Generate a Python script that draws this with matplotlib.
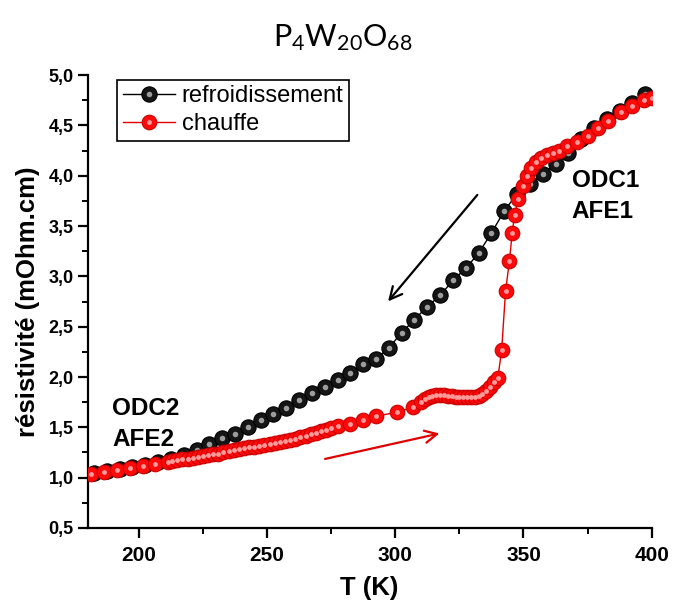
import matplotlib
matplotlib.use("Agg")
import matplotlib.pyplot as plt
from matplotlib.legend_handler import HandlerTuple
from matplotlib.ticker import MultipleLocator, FuncFormatter

# refroidissement (cooling) run
T_cool = [182.5, 187.5, 192.5, 197.5, 202.5, 207.5, 212.5, 217.5, 222.5, 227.5,
          232.5, 237.5, 242.5, 247.5, 252.5, 257.5, 262.5, 267.5, 272.5, 277.5,
          282.5, 287.5, 292.5, 297.5, 302.5, 307.5, 312.5, 317.5, 322.5, 327.5,
          332.5, 337.5, 342.5, 347.5, 352.5, 357.5, 362.5, 367.5, 372.5, 377.5,
          382.5, 387.5, 392.5, 397.5]
R_cool = [1.05, 1.07, 1.09, 1.11, 1.13, 1.16, 1.19, 1.23, 1.27, 1.33,
          1.39, 1.43, 1.50, 1.57, 1.63, 1.69, 1.77, 1.84, 1.90, 1.97,
          2.04, 2.13, 2.18, 2.29, 2.44, 2.57, 2.70, 2.81, 2.96, 3.08,
          3.23, 3.43, 3.65, 3.82, 3.92, 4.02, 4.12, 4.23, 4.36, 4.47,
          4.56, 4.64, 4.72, 4.81]

# chauffe (heating) run
T_heat = [181.5, 186.5, 191.5, 196.5, 201.5, 206.5, 211.5,
          213, 215, 217, 219, 221, 223, 225, 227, 229, 231, 233, 235, 237, 239,
          241, 243, 245, 247, 249, 251, 253, 255, 257, 259, 261, 263, 265, 267,
          269, 271, 273, 275,
          277.5, 282.5, 287.5, 292.5, 300.5, 307,
          310, 311.5, 313, 314.5, 316, 317.5, 319, 320.5, 322, 323.5, 325, 326.5,
          328, 329.5, 331, 332.5, 334, 335.5, 337, 338.5, 340,
          341.5, 343, 344.5, 345.6, 346.5, 348, 350, 351.5, 353, 355, 357, 359,
          361.5, 364, 367, 371, 375, 379, 383, 388, 392.5, 397, 400]
R_heat = [1.04, 1.06, 1.08, 1.10, 1.12, 1.14, 1.16,
          1.17, 1.18, 1.19, 1.19, 1.20, 1.21, 1.22, 1.23, 1.24, 1.24, 1.25, 1.26,
          1.27, 1.28, 1.29, 1.30, 1.30, 1.31, 1.32, 1.33, 1.34, 1.35, 1.36, 1.37,
          1.38, 1.40, 1.41, 1.43, 1.44, 1.46, 1.47, 1.49,
          1.51, 1.53, 1.57, 1.61, 1.65, 1.70,
          1.75, 1.78, 1.80, 1.81, 1.82, 1.82, 1.82, 1.81, 1.81, 1.80, 1.80, 1.80,
          1.80, 1.80, 1.80, 1.81, 1.83, 1.86, 1.90, 1.95, 1.99,
          2.27, 2.85, 3.15, 3.43, 3.61, 3.77, 3.90, 4.00, 4.08, 4.14, 4.18, 4.21,
          4.23, 4.25, 4.29, 4.33, 4.39, 4.47, 4.54, 4.63, 4.69, 4.75, 4.77]

x_ticks = [200, 250, 300, 350, 400]
labels = ["refroidissement", "chauffe"]

plt.rcParams['font.family'] = ['Liberation Sans', 'DejaVu Sans']
plt.rcParams['mathtext.fontset'] = 'custom'
plt.rcParams['mathtext.rm'] = 'Lato'

fig = plt.figure(figsize=(6.86, 6.08), dpi=100)
ax = fig.add_axes([0.1276, 0.1316, 0.8224, 0.745])

# cooling
l1, = ax.plot(T_cool, R_cool, '-', color='black', lw=1, marker='o', ms=11,
              mfc='#151515', mec='black', mew=0.8, zorder=3)
h1, = ax.plot(T_cool, R_cool, 'o', ls='none', ms=4, color='#9c9c9c', mec='none', zorder=3.1)

# heating
l2, = ax.plot(T_heat, R_heat, '-', color='#e00000', lw=1, marker='o', ms=10.5,
              mfc='#ff0a0a', mec='#c80000', mew=0.8, zorder=4)
h2, = ax.plot(T_heat, R_heat, 'o', ls='none', ms=3.5, color='#ff9a9a', mec='none', zorder=4.1)

ax.set_xlim(180, 400)
ax.set_ylim(0.5, 5.0)
ax.set_xticks(x_ticks)
ax.xaxis.set_minor_locator(MultipleLocator(25))
ax.yaxis.set_major_locator(MultipleLocator(0.5))
ax.yaxis.set_minor_locator(MultipleLocator(0.25))
ax.yaxis.set_major_formatter(FuncFormatter(lambda v, p: f"{v:.1f}".replace('.', ',')))

for s in ['top', 'right']:
    ax.spines[s].set_visible(False)
for s in ['left', 'bottom']:
    ax.spines[s].set_linewidth(1.6)

ax.tick_params(which='major', direction='out', length=7, width=1.6)
ax.tick_params(which='minor', direction='out', length=4, width=1.4)
ax.tick_params(axis='x', labelsize=15, pad=6)
ax.tick_params(axis='y', labelsize=13, pad=3)
for lab in ax.get_xticklabels() + ax.get_yticklabels():
    lab.set_fontweight('bold')

ax.set_xlabel("T (K)", fontsize=18.5, fontweight='bold', labelpad=8)
ax.set_ylabel("résistivité (mOhm.cm)", fontsize=18.5, fontweight='bold', labelpad=6)

fig.text(0.5, 0.938, r'$\mathregular{P_4W_{20}O_{68}}$', ha='center', va='center',
         fontsize=22, family='Lato')

leg = ax.legend([(l1, h1), (l2, h2)], labels, handler_map={tuple: HandlerTuple(ndivide=1, pad=0)},
                loc='upper left', bbox_to_anchor=(0.052, 0.99), fontsize=17,
                frameon=True, fancybox=False, edgecolor='black', framealpha=1,
                handlelength=2.2, handletextpad=0.3, borderpad=0.25, labelspacing=0.25,
                borderaxespad=0)
leg.get_frame().set_linewidth(1.2)

ax.text(368.8, 3.8, "ODC1\nAFE1", fontsize=17.5, fontweight='bold',
        va='center', ha='left', linespacing=1.45)
ax.text(189.5, 1.53, "ODC2\nAFE2", fontsize=17.5, fontweight='bold',
        va='center', ha='left', linespacing=1.45)

ax.annotate("", xy=(296.5, 2.73), xytext=(332.7, 3.83),
            arrowprops=dict(arrowstyle='->', color='black', lw=1.6, mutation_scale=22))
ax.annotate("", xy=(318.3, 1.445), xytext=(271.6, 1.18),
            arrowprops=dict(arrowstyle='->', color='#e00000', lw=1.6, mutation_scale=22))

fig.savefig("out.png", dpi=100)
